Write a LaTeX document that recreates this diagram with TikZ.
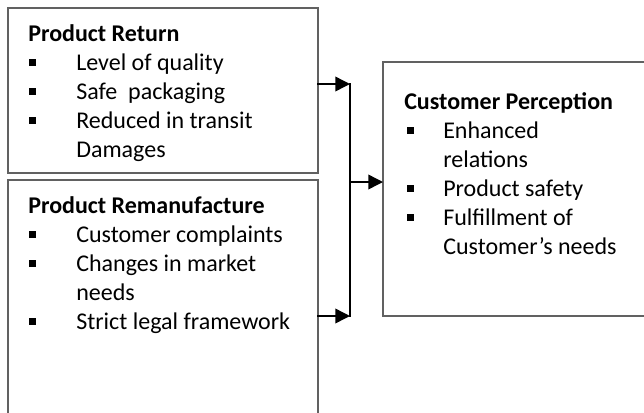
\documentclass[tikz,border=0pt]{standalone}
\usepackage{fontspec}
\setmainfont{Carlito}
\usetikzlibrary{arrows.meta}

% square bullet with its indent
\newcommand{\sqbul}[2]{\hspace*{#1}\makebox[#2][l]{\rule[2.8pt]{5.2pt}{5.2pt}}}

\tikzset{
	box/.style={draw=black!62,line width=1pt,anchor=north west,inner sep=0pt,outer sep=0pt},
	txt/.style={anchor=base west,inner sep=0pt,align=left,font=\fontsize{18}{21.75}\selectfont},
	link/.style={line width=1.1pt,-{Triangle[length=11pt,width=11pt]}}
}

\begin{document}
\begin{tikzpicture}[line cap=rect,line join=miter,x=0.75pt,y=-0.75pt]
			\useasboundingbox (0,0) rectangle (644,412);
			\clip (0,0) rectangle (644,412);
			% the three boxes
			\node [box,minimum width=232.5pt,minimum height=123.75pt] (ret) at (8,8) {};
			\node [box,minimum width=232.5pt,minimum height=195pt] (reman) at (8,180) {};
			\node [box,minimum width=210pt,minimum height=190.5pt] (perc) at (383,62) {};
			% their texts (placed by the baseline of the last line)
			\node [txt] (rettxt) at (28,157) {\textbf{Product Return}\\
				\sqbul{0.75pt}{35.25pt}Level of quality\\
				\sqbul{0.75pt}{35.25pt}Safe\ \ packaging\\
				\sqbul{0.75pt}{35.25pt}Reduced in transit\\
				\hspace*{36pt}Damages};
			\node [txt] (remantxt) at (28,329) {\textbf{Product Remanufacture}\\
				\sqbul{0.75pt}{35.25pt}Customer complaints\\
				\sqbul{0.75pt}{35.25pt}Changes in market\\
				\hspace*{36pt}needs\\
				\sqbul{0.75pt}{35.25pt}Strict legal framework};
			\node [txt] (perctxt) at (404,254) {\textbf{Customer Perception}\\
				\sqbul{2.25pt}{27pt}Enhanced\\
				\hspace*{29.25pt}relations\\
				\sqbul{2.25pt}{27pt}Product safety\\
				\sqbul{2.25pt}{27pt}Fulfillment of\\
				\hspace*{29.25pt}Customer’s needs};
			% bus between the boxes
			\coordinate (bustop) at (350,84);
			\coordinate (busmid) at (350,182);
			\coordinate (busbot) at (350,316);
			\draw [link] (ret.east |- bustop) -- (bustop);
			\draw [link] (reman.east |- busbot) -- (busbot);
			\draw [line width=1.1pt] (bustop) -- (busbot);
			\draw [link] (busmid) -- (perc.west |- busmid);
		\end{tikzpicture}
\end{document}
